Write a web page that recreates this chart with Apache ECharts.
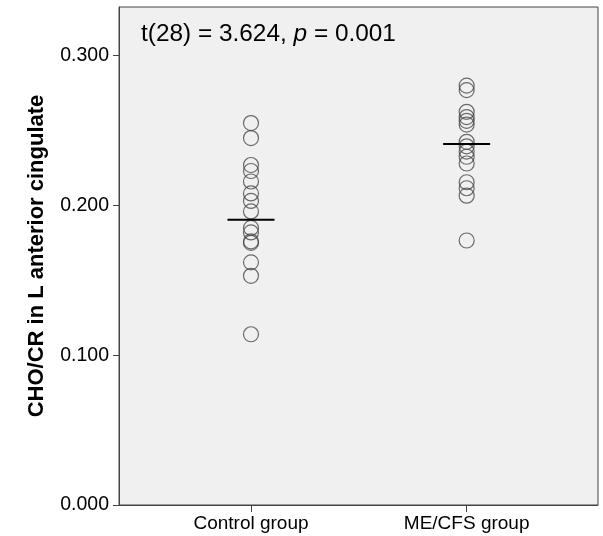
<!DOCTYPE html>
<html>
<head>
<meta charset="utf-8">
<script src="https://cdn.jsdelivr.net/npm/echarts@6/dist/echarts.min.js"></script>
<style>
html,body{margin:0;padding:0;background:#fff;}
#chart{width:603px;height:536px;}
</style>
</head>
<body>
<div id="chart"></div>
<script>
var categories = ['Control group', 'ME/CFS group'];
var groupPositions = [1, 2];
var controlValues = [0.255, 0.245, 0.227, 0.223, 0.216, 0.208, 0.203, 0.196, 0.185, 0.182, 0.176, 0.175, 0.162, 0.153, 0.114];
var mecfsValues = [0.280, 0.277, 0.2625, 0.259, 0.2565, 0.254, 0.2425, 0.2395, 0.236, 0.2325, 0.228, 0.2155, 0.2115, 0.2065, 0.1766];
var groupMeans = [0.1905, 0.2411];
var yTickLabels = ['0.000', '0.100', '0.200', '0.300'];
var annotation = 't(28) = 3.624, ';
var annotationP = 'p';
var annotationRest = ' = 0.001';
var yTitle = 'CHO/CR in L anterior cingulate';

var font = '"Liberation Sans", Arial, Helvetica, sans-serif';
var chart = echarts.init(document.getElementById('chart'));

function pts(pos, vals) { return vals.map(function (v) { return [pos, v]; }); }

var meanData = groupPositions.map(function (p, i) { return [p, groupMeans[i]]; });

chart.setOption({
  animation: false,
  backgroundColor: '#ffffff',
  grid: {
    left: 119, top: 7, right: 5, bottom: 31,
    show: true, backgroundColor: '#f0f0f0', borderColor: '#444', borderWidth: 1
  },
  xAxis: {
    type: 'value', min: 0.388, max: 2.609,
    splitLine: { show: false },
    axisLine: { show: true, lineStyle: { color: '#444', width: 1 } },
    axisTick: { show: true, length: 7, customValues: groupPositions, lineStyle: { color: '#444' } },
    axisLabel: {
      customValues: groupPositions, margin: 9,
      fontFamily: font, fontSize: 19, color: '#000',
      formatter: function (v) { var i = groupPositions.indexOf(Math.round(v)); return i >= 0 ? categories[i] : ''; }
    }
  },
  yAxis: {
    type: 'value', min: 0, max: 0.3325, interval: 0.1,
    splitLine: { show: false },
    axisLine: { show: true, lineStyle: { color: '#444', width: 1 } },
    axisTick: { show: true, length: 6, lineStyle: { color: '#444' } },
    axisLabel: {
      showMaxLabel: false, margin: 10, padding: [3, 0, 0, 0],
      fontFamily: font, fontSize: 19.5, color: '#000',
      formatter: function (v) { var i = Math.round(v * 10); return yTickLabels[i] !== undefined && Math.abs(v * 10 - i) < 1e-6 ? yTickLabels[i] : ''; }
    },
    name: yTitle, nameLocation: 'middle', nameGap: 71,
    nameTextStyle: { fontFamily: font, fontSize: 22, fontWeight: 'bold', color: '#000' }
  },
  graphic: [{
    type: 'text', x: 141, y: 34,
    style: {
      text: '{n|' + annotation + '}{i|' + annotationP + '}{n|' + annotationRest + '}',
      verticalAlign: 'middle',
      rich: {
        n: { fontFamily: font, fontSize: 24.4, fill: '#000' },
        i: { fontFamily: font, fontSize: 24.4, fontStyle: 'italic', fill: '#000' }
      }
    }
  }],
  series: [
    {
      type: 'scatter', data: pts(groupPositions[0], controlValues),
      symbol: 'circle', symbolSize: 15,
      itemStyle: { color: 'rgba(0,0,0,0)', borderColor: '#4a4a4a', borderWidth: 1.2 }
    },
    {
      type: 'scatter', data: pts(groupPositions[1], mecfsValues),
      symbol: 'circle', symbolSize: 15,
      itemStyle: { color: 'rgba(0,0,0,0)', borderColor: '#4a4a4a', borderWidth: 1.2 }
    },
    {
      type: 'custom', data: meanData, z: 5,
      renderItem: function (params, api) {
        var c = api.coord([api.value(0), api.value(1)]);
        return { type: 'line', shape: { x1: c[0] - 23.5, y1: c[1], x2: c[0] + 23.5, y2: c[1] },
          style: { stroke: '#000', lineWidth: 2 } };
      }
    }
  ]
});
</script>
</body>
</html>
